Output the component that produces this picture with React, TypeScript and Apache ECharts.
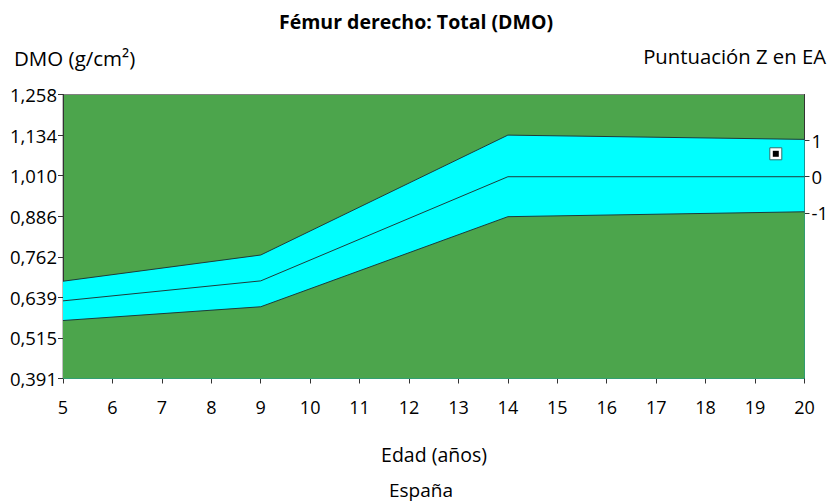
import React, { useEffect, useRef } from "react";
import * as echarts from "echarts";

// Reference curve (age in years, BMD g/cm²)
const ages = [5, 9, 14, 20];
const upperSD = [0.688, 0.768, 1.134, 1.121];
const meanBmd = [0.628, 0.689, 1.007, 1.007];
const lowerSD = [0.568, 0.61, 0.885, 0.9];

// Patient measurement
const patientAge = [19.42];
const patientBmd = [1.077];

// Axis ticks
const xTicks = [5, 6, 7, 8, 9, 10, 11, 12, 13, 14, 15, 16, 17, 18, 19, 20];
const yTicks = [0.391, 0.515, 0.639, 0.762, 0.886, 1.01, 1.134, 1.258];
const zTicks = [-1, 0, 1];

const FONT = "'Open Sans', 'Noto Sans', sans-serif";
const GREEN = "#4ca54c";
const CYAN = "#00ffff";
const LINE = "#1d3b3b";

export default function App() {
  const ref = useRef<HTMLDivElement>(null);

  useEffect(() => {
    if (!ref.current) return;
    const chart = echarts.init(ref.current, undefined, { renderer: "svg" });

    const yMin = yTicks[0];
    const yMax = yTicks[yTicks.length - 1];
    const last = ages.length - 1;
    const zMean = meanBmd[last];
    const zSd = (upperSD[last] - lowerSD[last]) / 2;
    const zMin = (yMin - zMean) / zSd;
    const zMax = (yMax - zMean) / zSd;

    const pts = (ys: number[]) => ages.map((a, i) => [a, ys[i]]);

    chart.setOption({
      animation: false,
      textStyle: { fontFamily: FONT },
      grid: {
        left: 63,
        top: 94.5,
        width: 744,
        height: 284,
        show: true,
        backgroundColor: GREEN,
        borderColor: "#808080",
        borderWidth: 1,
      },
      xAxis: {
        type: "value",
        min: xTicks[0],
        max: xTicks[xTicks.length - 1],
        interval: 1,
        position: "bottom",
        axisLine: { show: true, onZero: false, lineStyle: { color: "#333", width: 1 } },
        axisTick: { show: true, length: 5, lineStyle: { color: "#333" } },
        axisLabel: {
          show: true,
          margin: 19,
          fontSize: 18,
          color: "#000",
          fontFamily: FONT,
        },
        splitLine: { show: false },
      },
      yAxis: [
        {
          type: "value",
          min: yMin,
          max: yMax,
          position: "left",
          axisLine: { show: true, onZero: false, lineStyle: { color: "#333", width: 1 } },
          axisTick: {
            show: true,
            length: 5,
            customValues: yTicks,
            lineStyle: { color: "#333" },
          },
          axisLabel: {
            show: true,
            customValues: yTicks,
            margin: 6,
            fontSize: 18.5,
            color: "#000",
            fontFamily: FONT,
            formatter: (v: number) => v.toFixed(3).replace(".", ","),
          },
          splitLine: { show: false },
        },
        {
          type: "value",
          min: zMin,
          max: zMax,
          position: "right",
          axisLine: { show: true, onZero: false, lineStyle: { color: "#333", width: 1 } },
          axisTick: {
            show: true,
            length: 5,
            customValues: zTicks,
            lineStyle: { color: "#333" },
          },
          axisLabel: {
            show: true,
            customValues: zTicks,
            margin: 7,
            fontSize: 18.5,
            color: "#000",
            fontFamily: FONT,
            formatter: (v: number) => String(Math.round(v)),
          },
          splitLine: { show: false },
        },
      ],
      series: [
        {
          name: "+1 DE",
          type: "line",
          data: pts(upperSD),
          symbol: "none",
          lineStyle: { color: LINE, width: 1 },
          areaStyle: { color: CYAN, opacity: 1, origin: "start" },
          z: 1,
        },
        {
          name: "-1 DE",
          type: "line",
          data: pts(lowerSD),
          symbol: "none",
          lineStyle: { color: LINE, width: 1 },
          areaStyle: { color: GREEN, opacity: 1, origin: "start" },
          z: 2,
        },
        {
          name: "Media",
          type: "line",
          data: pts(meanBmd),
          symbol: "none",
          lineStyle: { color: LINE, width: 1 },
          z: 3,
        },
        {
          name: "Paciente",
          type: "scatter",
          data: patientAge.map((a, i) => [a, patientBmd[i]]),
          symbol: "rect",
          symbolSize: 12,
          itemStyle: { color: "#ffffff", borderColor: "#2f6f6f", borderWidth: 1, opacity: 1 },
          z: 4,
        },
        {
          name: "Paciente centro",
          type: "scatter",
          data: patientAge.map((a, i) => [a, patientBmd[i]]),
          symbol: "rect",
          symbolSize: 6,
          itemStyle: { color: "#000000", opacity: 1 },
          z: 5,
        },
      ],
      graphic: [
        {
          type: "text",
          x: 416,
          y: 21,
          style: {
            text: "Fémur derecho: Total (DMO)",
            fontSize: 19.5,
            fontWeight: "bold",
            fontFamily: FONT,
            fill: "#000",
            align: "center",
            verticalAlign: "middle",
          },
        },
        {
          type: "text",
          x: 14,
          y: 58,
          style: {
            text: "DMO (g/cm²)",
            fontSize: 20.5,
            fontFamily: FONT,
            fill: "#000",
            align: "left",
            verticalAlign: "middle",
          },
        },
        {
          type: "text",
          x: 826,
          y: 56,
          style: {
            text: "Puntuación Z en EA",
            fontSize: 20.3,
            fontFamily: FONT,
            fill: "#000",
            align: "right",
            verticalAlign: "middle",
          },
        },
        {
          type: "text",
          x: 434,
          y: 454,
          style: {
            text: "Edad (años)",
            fontSize: 19.5,
            fontFamily: FONT,
            fill: "#000",
            align: "center",
            verticalAlign: "middle",
          },
        },
        {
          type: "text",
          x: 421,
          y: 490,
          style: {
            text: "España",
            fontSize: 19,
            fontFamily: FONT,
            fill: "#000",
            align: "center",
            verticalAlign: "middle",
          },
        },
      ],
    });

    return () => chart.dispose();
  }, []);

  return (
    <div
      ref={ref}
      style={{ position: "absolute", left: 0, top: 0, width: 831, height: 502 }}
    />
  );
}
